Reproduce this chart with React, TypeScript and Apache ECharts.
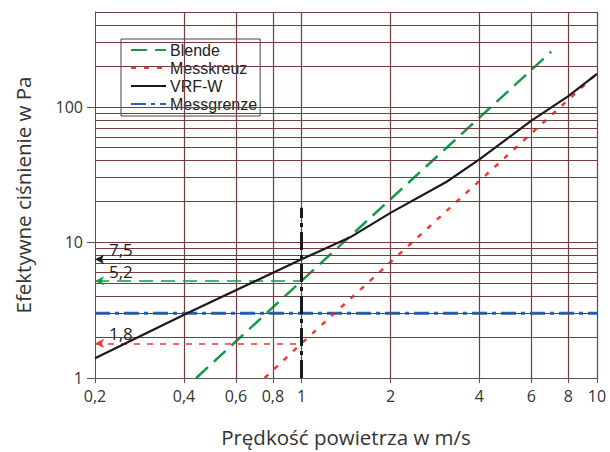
import React, { useEffect, useRef } from "react";
import * as echarts from "echarts";

// ---- data ----
const xTickValues = [0.2, 0.4, 0.6, 0.8, 1, 2, 4, 6, 8, 10];
const yTickValues = [1, 10, 100];
const xGridValues = [0.4, 0.6, 0.8, 1, 2, 4, 6, 8, 10];
const yGridValues = [2, 3, 4, 5, 6, 7, 8, 9, 10, 20, 30, 40, 50, 60, 70, 80, 90, 100, 200, 300, 400, 500];

const blendeData = [[0.44, 1], [1, 5.2], [7, 255]];
const messkreuzData = [[0.75, 1], [1, 1.8], [10, 176]];
const vrfwData = [[0.2, 1.4], [0.41, 3], [1, 7.5], [1.46, 10.9], [2, 16.5], [3.1, 28], [4, 41], [6, 79], [8, 120], [10, 175]];
const messgrenzeData = [[0.2, 3], [10, 3]];

const refSpeed = 1;
const refLineTop = 18;
const markerValues = [7.5, 5.2, 1.8];
const markerLabels = ["7,5", "5,2", "1,8"];

const FONT = "Open Sans";
const LEGEND_FONT = "Liberation Sans";
const GRID_COLOR = "#743e3e";

function arrowMark(value: number, label: string, color: string, width: number, type: any) {
  return {
    silent: true,
    symbol: ["arrow", "none"],
    symbolSize: [7, 9],
    data: [[{ coord: [xTickValues[0], value] }, { coord: [refSpeed, value] }]],
    lineStyle: { color, width, type, opacity: 1 },
    itemStyle: { color },
    label: {
      show: true,
      formatter: label,
      position: "insideStartTop",
      distance: [14, 1],
      color: "#222",
      fontSize: 17,
      fontFamily: FONT,
    },
    emphasis: { disabled: true },
  };
}

export default function App() {
  const ref = useRef<HTMLDivElement>(null);
  useEffect(() => {
    if (!ref.current) return;
    const chart = echarts.init(ref.current, null, { renderer: "svg" });
    const gridMarks = [
      ...yGridValues.map((v) => ({ yAxis: v })),
      ...xGridValues.map((v) => ({ xAxis: v })),
    ];
    chart.setOption({
      animation: false,
      backgroundColor: "#fff",
      textStyle: { fontFamily: FONT },
      grid: { left: 95, right: 13, top: 12, bottom: 69 },
      legend: {
        data: ["Blende", "Messkreuz", "VRF-W", "Messgrenze"],
        orient: "vertical",
        left: 121,
        top: 39,
        backgroundColor: "#fff",
        borderColor: "#444",
        borderWidth: 1,
        padding: [2, 3, 3, 9],
        itemWidth: 35,
        itemHeight: 14,
        itemGap: 0,
        itemStyle: { opacity: 0, borderWidth: 0 },
        textStyle: { fontSize: 16, lineHeight: 18, color: "#222", fontFamily: LEGEND_FONT, padding: [0, 0, 0, -1] },
      },
      xAxis: {
        type: "log",
        logBase: 10,
        min: 0.2,
        max: 10,
        name: "Prędkość powietrza w m/s",
        nameLocation: "middle",
        nameGap: 48,
        nameTextStyle: { fontSize: 20.5, color: "#333", fontFamily: FONT },
        axisLine: { show: true, lineStyle: { color: "#555", width: 1 } },
        axisTick: { show: true, customValues: xTickValues, length: 5, lineStyle: { color: "#555" } },
        axisLabel: {
          customValues: xTickValues,
          formatter: (v: number) => String(v).replace(".", ","),
          fontSize: 16,
          color: "#333",
          margin: 10,
          fontFamily: FONT,
        },
        splitLine: { show: false },
        minorTick: { show: false },
      },
      yAxis: {
        type: "log",
        logBase: 10,
        min: 1,
        max: 500,
        name: "Efektywne ciśnienie w Pa",
        nameLocation: "middle",
        nameGap: 62,
        nameTextStyle: { fontSize: 20.5, color: "#333", fontFamily: FONT },
        axisLine: { show: true, lineStyle: { color: "#555", width: 1 } },
        axisTick: { show: true, customValues: yTickValues, length: 8, lineStyle: { color: "#555" } },
        axisLabel: {
          customValues: yTickValues,
          fontSize: 16,
          color: "#333",
          margin: 12,
          fontFamily: FONT,
        },
        splitLine: { show: false },
        minorTick: { show: false },
      },
      series: [
        {
          name: "grid",
          type: "line",
          data: [[0.2, 1]],
          symbol: "none",
          lineStyle: { opacity: 0 },
          z: 1,
          silent: true,
          markLine: {
            silent: true,
            symbol: "none",
            label: { show: false },
            lineStyle: { color: GRID_COLOR, width: 1.2, type: "solid" },
            data: gridMarks,
            emphasis: { disabled: true },
          },
        },
        {
          name: "Messgrenze",
          type: "line",
          data: messgrenzeData,
          symbol: "none",
          z: 3,
          lineStyle: { color: "#2a62b4", width: 3, type: [15, 5, 4, 5] },
          itemStyle: { color: "#2a62b4" },
        },
        {
          name: "Blende",
          type: "line",
          data: blendeData,
          symbol: "none",
          z: 4,
          lineStyle: { color: "#139a4a", width: 2.5, type: [16, 8] },
          itemStyle: { color: "#139a4a" },
          markLine: arrowMark(markerValues[1], markerLabels[1], "#139a4a", 1.5, [14, 8]),
        },
        {
          name: "Messkreuz",
          type: "line",
          data: messkreuzData,
          symbol: "none",
          z: 4,
          lineStyle: { color: "#f03a36", width: 2.5, type: [5, 8] },
          itemStyle: { color: "#f03a36" },
          markLine: arrowMark(markerValues[2], markerLabels[2], "#f23530", 1.5, [6, 7]),
        },
        {
          name: "VRF-W",
          type: "line",
          data: vrfwData,
          symbol: "none",
          z: 5,
          lineStyle: { color: "#1a1a1a", width: 2.2 },
          itemStyle: { color: "#1a1a1a" },
          markLine: arrowMark(markerValues[0], markerLabels[0], "#1a1a1a", 1, "solid"),
        },
        {
          name: "ref",
          type: "line",
          data: [[0.2, 1]],
          symbol: "none",
          lineStyle: { opacity: 0 },
          z: 6,
          silent: true,
          markLine: {
            silent: true,
            symbol: "none",
            label: { show: false },
            lineStyle: { color: "#1a1a1a", width: 3, type: [18, 5, 4, 5] },
            data: [[{ coord: [refSpeed, yTickValues[0]] }, { coord: [refSpeed, refLineTop] }]],
            emphasis: { disabled: true },
          },
        },
      ],
    });
    return () => chart.dispose();
  }, []);
  return <div ref={ref} style={{ position: "fixed", left: 0, top: 0, width: 610, height: 452 }} />;
}
